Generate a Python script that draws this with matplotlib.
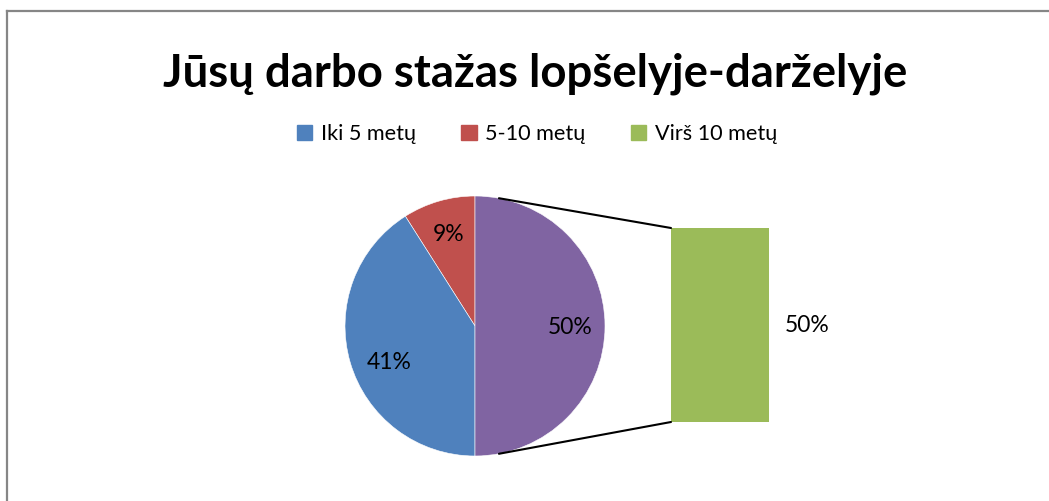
import matplotlib
matplotlib.use("Agg")
import matplotlib.pyplot as plt
from matplotlib.patches import ConnectionPatch, Patch
from matplotlib.lines import Line2D
import numpy as np

plt.rcParams['font.family'] = ['Lato', 'DejaVu Sans']

title = "Jūsų darbo stažas lopšelyje-darželyje"
categories = ["Iki 5 metų", "5-10 metų", "Virš 10 metų"]
shares = [41, 9, 50]
colors = ["#4F81BD", "#C0504D", "#9BBB59"]
other_color = "#8064A2"

# pie shows the first two + combined "other" slice, bar shows the split-off part
pie_vals = [shares[1], shares[0], shares[2]]
pie_cols = [colors[1], colors[0], other_color]
bar_vals = [shares[2]]

W, H = 1049, 501
fig = plt.figure(figsize=(W / 100, H / 100), dpi=100)

ax = fig.add_axes([0, 0, 1, 1])
cx, cy, r = 475, H - 326, 130
wedges, texts, autotexts = ax.pie(
    pie_vals, colors=pie_cols, startangle=90, counterclock=True,
    center=(cx, cy), radius=r, frame=True,
    autopct=lambda p: f"{p:.0f}%", pctdistance=0.73,
    wedgeprops=dict(edgecolor="white", linewidth=0.4),
    textprops=dict(fontsize=16.5, color="black"))
# excel puts the 41% label a bit lower than the slice middle
a41 = np.deg2rad(203)
autotexts[1].set_position((cx + 0.72 * r * np.cos(a41), cy + 0.72 * r * np.sin(a41)))
autotexts[2].set_y(cy - 2)
ax.set_xlim(0, W)
ax.set_ylim(0, H)
ax.set_aspect("equal")
ax.axis("off")

# bar for the "other" part
bx = fig.add_axes([671 / W, 79 / H, 98 / W, 194 / H])
bx.bar([0], bar_vals, width=1, color=colors[2])
bx.set_xlim(-0.5, 0.5)
bx.set_ylim(0, sum(bar_vals))
bx.axis("off")
bx.text(0.89, bar_vals[0] / 2, f"{bar_vals[0]}%", ha="center", va="center",
        fontsize=16.5, clip_on=False)

# connector lines
ang = np.deg2rad(79.4)
for sgn, ytop in [(1, sum(bar_vals)), (-1, 0)]:
    p = (cx + r * np.cos(ang), cy + sgn * r * np.sin(ang))
    con = ConnectionPatch(xyA=p, coordsA=ax.transData, xyB=(-0.5, ytop),
                          coordsB=bx.transData, color="black", lw=1.5)
    fig.add_artist(con)

# title + legend
fig.text(535 / W, 1 - 74 / H, title, ha="center", va="center",
         fontsize=32.8, fontweight="bold")
handles = [Patch(color=c, label=l) for c, l in zip(colors, categories)]
fig.legend(handles=handles, loc="center", bbox_to_anchor=(537 / W, 1 - 134 / H),
           ncol=3, frameon=False, fontsize=15.6, handlelength=0.7,
           handleheight=0.7, handletextpad=0.4, columnspacing=2.1)

# chart border
fig.add_artist(Line2D([6.5 / W, 6.5 / W], [0, 1 - 10.5 / H], color="#868686", lw=1.6))
fig.add_artist(Line2D([6.5 / W, 1], [1 - 10.5 / H, 1 - 10.5 / H], color="#868686", lw=1.6))

fig.savefig("out.png", dpi=100)
